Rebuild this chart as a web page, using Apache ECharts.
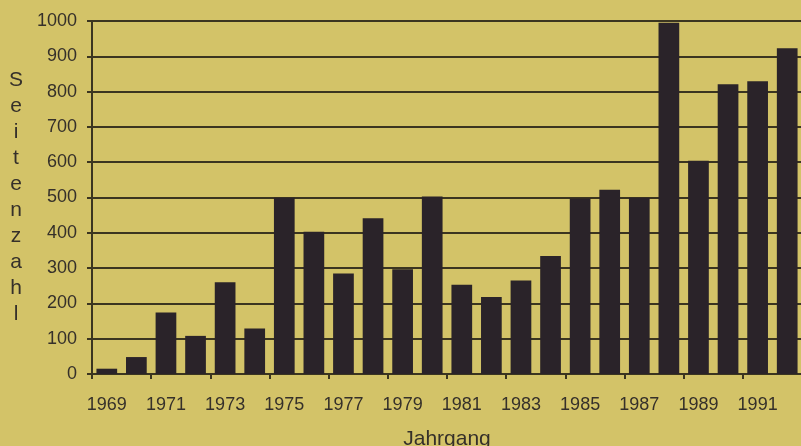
<!DOCTYPE html>
<html>
<head>
<meta charset="utf-8">
<title>Seitenzahl je Jahrgang</title>
<script src="https://cdn.jsdelivr.net/npm/echarts@6/dist/echarts.min.js"></script>
<style>
  html, body { margin: 0; padding: 0; background: #d3c368; }
  #chart { width: 801px; height: 446px; }
</style>
</head>
<body>
<div id="chart"></div>
<script>
// Jahrgänge und Seitenzahlen
const years = ['1969','1970','1971','1972','1973','1974','1975','1976','1977','1978','1979','1980',
               '1981','1982','1983','1984','1985','1986','1987','1988','1989','1990','1991','1992'];
const pages = [15, 48, 174, 108, 260, 129, 499, 403, 285, 441, 297, 503,
               253, 218, 265, 334, 497, 522, 499, 995, 604, 821, 829, 923];
const yTicks = { min: 0, max: 1000, step: 100 };

const textColor = '#35302a';
const lineColor = '#3b3520';
const font = '"Liberation Sans", Arial, sans-serif';

const chart = echarts.init(document.getElementById('chart'));
chart.setOption({
  backgroundColor: '#d3c368',
  animation: false,
  grid: {
    left: 92, top: 21, width: 710, height: 353,
    containLabel: false,
    outerBoundsMode: 'none'
  },
  xAxis: {
    type: 'category',
    data: years,
    name: 'Jahrgang',
    nameLocation: 'middle',
    nameGap: 55,
    nameTextStyle: { color: textColor, fontSize: 21, fontFamily: font, verticalAlign: 'top' },
    axisLine: { show: true, lineStyle: { color: lineColor, width: 2 } },
    axisTick: { show: true, alignWithLabel: false, length: 5, lineStyle: { color: lineColor, width: 2 } },
    axisLabel: { interval: 1, color: textColor, fontSize: 18, fontFamily: font, margin: 22 },
    splitLine: { show: false }
  },
  yAxis: {
    type: 'value',
    min: yTicks.min,
    max: yTicks.max,
    interval: yTicks.step,
    name: 'Seitenzahl'.split('').join('\n'),
    nameLocation: 'middle',
    nameRotate: 0,
    nameGap: 76,
    nameTextStyle: { color: textColor, fontSize: 21, fontFamily: font, lineHeight: 26, align: 'center', verticalAlign: 'middle' },
    axisLine: { show: true, lineStyle: { color: lineColor, width: 2 } },
    axisTick: { show: true, length: 5, lineStyle: { color: lineColor, width: 2 } },
    axisLabel: { color: textColor, fontSize: 18, fontFamily: font, margin: 15, formatter: v => String(v) },
    splitLine: { show: true, lineStyle: { color: lineColor, width: 2 } }
  },
  series: [{
    type: 'bar',
    data: pages,
    barWidth: '70%',
    itemStyle: { color: '#2a2329' }
  }]
});
</script>
</body>
</html>
